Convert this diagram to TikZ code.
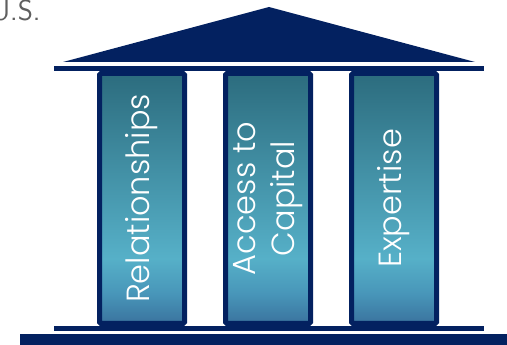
\documentclass[tikz,border=0pt]{standalone}
\usepackage{fontspec}
\newfontfamily\pillarfont{Poppins Light}
\definecolor{navy}{RGB}{3,33,96}
\definecolor{pillartop}{RGB}{44,108,126}
\definecolor{pillarmid}{RGB}{86,176,200}
\definecolor{pillarlow}{RGB}{72,150,185}
\definecolor{pillarbot}{RGB}{58,115,158}
\definecolor{usgray}{RGB}{95,95,95}
\pgfdeclareverticalshading{pillarshade}{100bp}{%
    color(0bp)=(pillarbot); color(25bp)=(pillarbot);
    color(31bp)=(pillarlow); color(38bp)=(pillarmid);
    color(75bp)=(pillartop); color(100bp)=(pillartop)}
\tikzset{%
    every pillar/.style={
        shading=pillarshade,
        draw=navy,
        line width=5pt,
        rounded corners=1.5pt,
        minimum width=85pt,
        minimum height=250pt,
        inner sep=0pt
    },
    pillar label/.style={
        rotate=90,
        text=white,
        align=center,
        font=\pillarfont\fontsize{32}{39}\selectfont
    },
    beam/.style={
        fill=navy
    },
}
\begin{document}
\begin{tikzpicture}[x=1pt, y=1pt]
        \useasboundingbox (0,0) rectangle (507,345);

        \node [anchor=base east, text=usgray, font=\sffamily\fontsize{29}{29}\selectfont] (country) at (44,324) {U.S.};

        % roof and beams
        \fill [beam] (63,283) -- (269,338) -- (475,283) -- cycle;
        \fill [beam] (54,274) rectangle (484,279);
        \fill [beam] (54,14) rectangle (484,19);
        \fill [beam] (20,0) rectangle (507,11);

        \foreach \m/\l [count=\i] in {rel/Relationships, cap/{Access to\\Capital}, exp/Expertise}
            \node [every pillar/.try] (pillar-\m) at (16+\i*126,146.5) {};

        \foreach \m/\l in {rel/Relationships, cap/{Access to\\Capital}, exp/Expertise}
            \node [pillar label] (label-\m) at (pillar-\m.center) {\l};

    \end{tikzpicture}
\end{document}
